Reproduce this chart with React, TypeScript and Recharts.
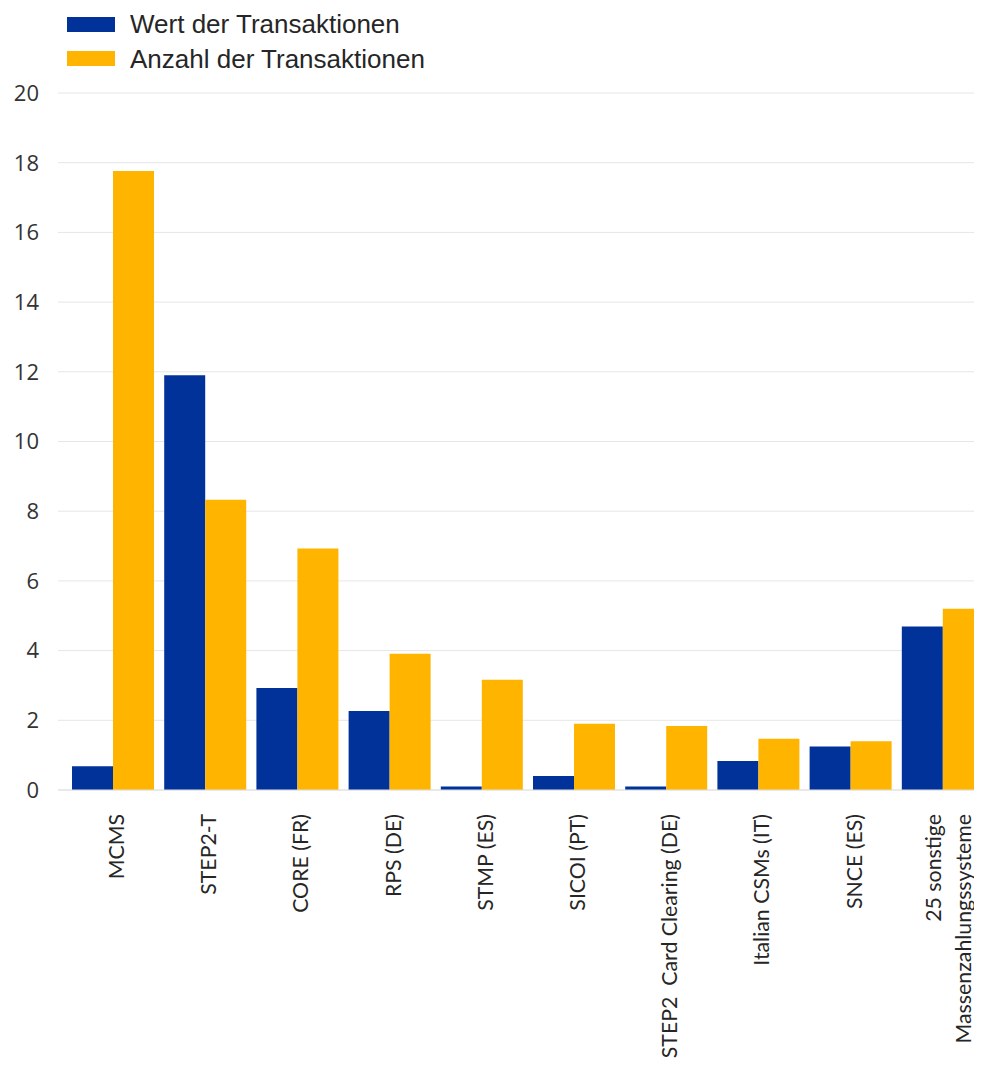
import React from 'react';
import { BarChart, Bar, XAxis, YAxis, CartesianGrid, Legend } from 'recharts';

const categories = [
  'MCMS',
  'STEP2-T',
  'CORE (FR)',
  'RPS (DE)',
  'STMP (ES)',
  'SICOI (PT)',
  'STEP2  Card Clearing (DE)',
  'Italian CSMs (IT)',
  'SNCE (ES)',
  '25 sonstige\nMassenzahlungssysteme',
];
const wertValues = [0.68, 11.9, 2.93, 2.27, 0.1, 0.4, 0.1, 0.83, 1.25, 4.69];
const anzahlValues = [17.76, 8.33, 6.93, 3.91, 3.16, 1.9, 1.84, 1.47, 1.4, 5.2];
const yTicks = [0, 2, 4, 6, 8, 10, 12, 14, 16, 18, 20];
const seriesNames = ['Wert der Transaktionen', 'Anzahl der Transaktionen'];

const BLUE = '#003299';
const ORANGE = '#FFB400';

const data = categories.map((c, i) => ({
  name: c,
  wert: wertValues[i],
  anzahl: anzahlValues[i],
}));

const XTick = (props: any) => {
  const { x, y, payload } = props;
  const lines = String(payload.value).split('\n');
  const offsets = lines.length === 1 ? [3] : [-10, 20];
  return (
    <g>
      {lines.map((l, i) => (
        <text
          key={i}
          transform={`translate(${x + offsets[i]},${y + 24}) rotate(-90)`}
          textAnchor="end"
          dy="0.35em"
          fontFamily="Lato"
          fontSize={21.3}
          fill="#262626"
          style={{ whiteSpace: 'pre' }}
        >
          {l}
        </text>
      ))}
    </g>
  );
};

const LegendContent = (props: any) => {
  const payload = [...(props.payload || [])].sort(
    (a: any, b: any) => seriesNames.indexOf(a.value) - seriesNames.indexOf(b.value)
  );
  return (
    <svg width={500} height={70}>
      {payload.map((p: any, i: number) => (
        <g key={i}>
          <rect x={59} y={9 + i * 34} width={48} height={15} fill={p.color} />
          <text
            x={122}
            y={25 + i * 34.5}
            fontFamily="'Liberation Sans', Arial, sans-serif"
            fontSize={26}
            fill="#262626"
          >
            {p.value}
          </text>
        </g>
      ))}
    </svg>
  );
};

export default function App() {
  return (
    <div style={{ width: 974, height: 1061, overflow: 'hidden', marginBottom: -8 }}>
      <BarChart
        width={990}
        height={1061}
        data={data}
        margin={{ top: 85, right: 8.6, bottom: 0, left: 0 }}
        barCategoryGap="5%"
        barGap={0}
      >
        <CartesianGrid vertical={false} stroke="#e6e6e6" />
        <XAxis
          dataKey="name"
          interval={0}
          height={279}
          tickLine={false}
          tickSize={0}
          tickMargin={0}
          axisLine={{ stroke: '#e0e0e0' }}
          padding={{ left: 9.4, right: 0 }}
          tick={<XTick />}
        />
        <YAxis
          width={50}
          domain={[0, 20]}
          ticks={yTicks}
          axisLine={false}
          tickLine={false}
          tickSize={0}
          tickMargin={19}
          tick={{ fontFamily: "'Open Sans'", fontSize: 22, fill: '#333' }}
        />
        <Legend
          layout="vertical"
          align="center"
          verticalAlign="middle"
          itemSorter={null as any}
          wrapperStyle={{ position: 'absolute', top: 0, left: 0, width: 500, height: 70 }}
          content={<LegendContent />}
        />
        <Bar dataKey="wert" name={seriesNames[0]} fill={BLUE} isAnimationActive={false} />
        <Bar dataKey="anzahl" name={seriesNames[1]} fill={ORANGE} isAnimationActive={false} />
      </BarChart>
    </div>
  );
}
